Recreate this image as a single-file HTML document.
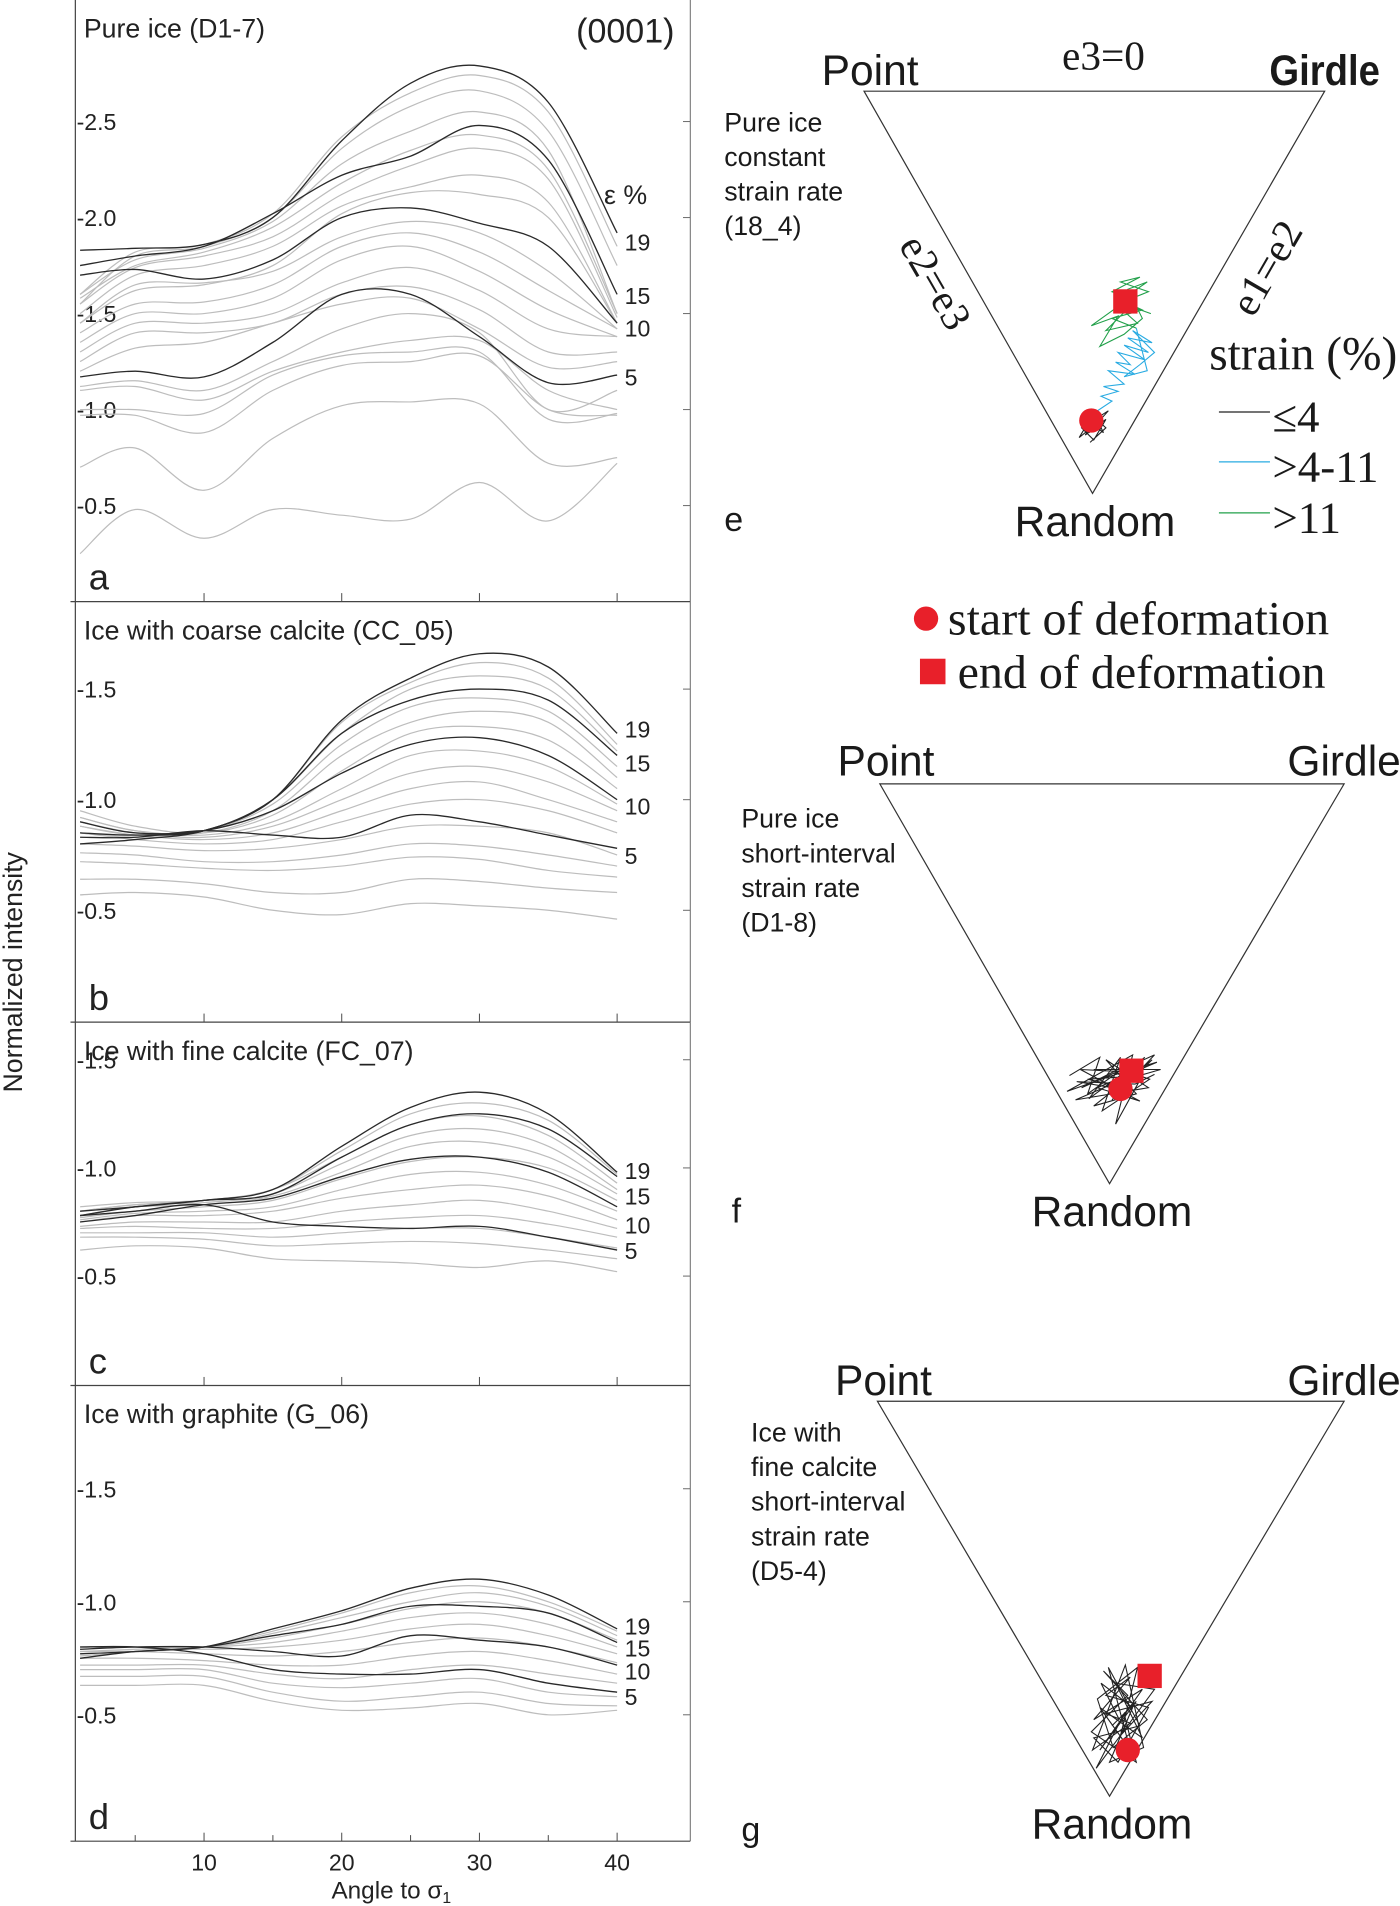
<!DOCTYPE html>
<html><head><meta charset="utf-8"><title>Ice fabric intensity and eigenvalue trajectories</title>
<style>
html,body{margin:0;padding:0;background:#fff;}
svg{display:block;}
.sans{font-family:"Liberation Sans",sans-serif;}
.serif{font-family:"Liberation Serif",serif;}
</style></head>
<body>
<svg id="fig" width="1400" height="1906" viewBox="0 0 1152 1568.3" xmlns="http://www.w3.org/2000/svg">
<g id="left"></g>
<g id="right"></g>
</svg>
<script>
// ---------- data: intensity curves ----------
const angles = [1,5,10,15,20,25,30,35,40];
const yTicks = [0.5,1.0,1.5,2.0,2.5];
const xTickLabels = [10,20,30,40];
const strainLabels = ['19','15','10','5'];

const aDark = [
 [1.83,1.84,1.86,2.0,2.4,2.7,2.79,2.6,1.92],
 [1.75,1.8,1.85,2.02,2.22,2.32,2.48,2.3,1.6],
 [1.7,1.73,1.68,1.78,2.0,2.05,1.97,1.85,1.45],
 [1.17,1.2,1.17,1.35,1.6,1.6,1.38,1.14,1.18]];
const aGray = [
 [1.6,1.82,1.86,2.02,2.42,2.65,2.74,2.55,1.85],
 [1.55,1.8,1.85,2.0,2.36,2.58,2.66,2.45,1.75],
 [1.6,1.78,1.84,1.98,2.28,2.45,2.55,2.35,1.5],
 [1.58,1.75,1.82,1.95,2.18,2.35,2.43,2.25,1.5],
 [1.55,1.74,1.8,1.9,2.12,2.27,2.36,2.2,1.48],
 [1.5,1.7,1.75,1.85,2.06,2.16,2.22,2.08,1.45],
 [1.45,1.62,1.65,1.75,2.02,2.13,2.12,2.0,1.45],
 [1.45,1.65,1.66,1.72,1.9,1.98,1.92,1.72,1.42],
 [1.4,1.55,1.56,1.65,1.85,1.92,1.82,1.62,1.42],
 [1.35,1.5,1.5,1.58,1.78,1.85,1.72,1.52,1.38],
 [1.3,1.45,1.45,1.5,1.66,1.74,1.62,1.42,1.38],
 [1.25,1.4,1.4,1.45,1.6,1.64,1.52,1.3,1.3],
 [1.2,1.32,1.35,1.45,1.55,1.58,1.42,1.22,1.25],
 [1.12,1.15,1.1,1.25,1.42,1.5,1.4,1.0,1.1],
 [1.1,1.12,1.05,1.2,1.3,1.36,1.36,1.1,1.0],
 [1.0,1.0,0.98,1.18,1.28,1.3,1.3,0.95,0.98],
 [0.97,0.97,0.88,1.1,1.23,1.25,1.28,1.0,0.97],
 [0.7,0.8,0.58,0.85,1.02,1.04,1.03,0.72,0.75],
 [0.25,0.48,0.33,0.48,0.45,0.43,0.62,0.42,0.72]];

const bDark = [
 [0.8,0.82,0.86,1.0,1.36,1.55,1.66,1.6,1.3],
 [0.85,0.84,0.86,1.0,1.3,1.45,1.5,1.45,1.2],
 [0.9,0.85,0.86,0.95,1.12,1.25,1.28,1.2,1.0],
 [0.83,0.83,0.86,0.84,0.83,0.93,0.9,0.84,0.78]];
const bGray = [
 [0.85,0.83,0.86,1.0,1.35,1.53,1.62,1.55,1.25],
 [0.88,0.84,0.86,1.0,1.3,1.5,1.56,1.5,1.22],
 [0.9,0.85,0.86,0.98,1.25,1.42,1.46,1.4,1.15],
 [0.92,0.86,0.85,0.95,1.2,1.35,1.4,1.35,1.1],
 [0.95,0.88,0.85,0.93,1.13,1.3,1.33,1.27,1.05],
 [0.92,0.86,0.84,0.9,1.05,1.2,1.22,1.15,0.98],
 [0.9,0.85,0.83,0.88,1.0,1.12,1.15,1.08,0.95],
 [0.88,0.84,0.82,0.85,0.95,1.05,1.08,1.0,0.9],
 [0.85,0.82,0.8,0.82,0.9,0.98,1.0,0.95,0.85],
 [0.8,0.79,0.77,0.78,0.82,0.88,0.88,0.85,0.75],
 [0.76,0.75,0.72,0.72,0.75,0.8,0.79,0.75,0.7],
 [0.72,0.71,0.69,0.68,0.7,0.74,0.73,0.68,0.65],
 [0.64,0.64,0.62,0.58,0.58,0.64,0.63,0.6,0.58],
 [0.57,0.58,0.56,0.5,0.48,0.53,0.52,0.5,0.46]];

const cDark = [
 [0.8,0.82,0.85,0.9,1.1,1.28,1.35,1.25,0.98],
 [0.78,0.82,0.85,0.88,1.05,1.2,1.25,1.18,0.96],
 [0.75,0.78,0.83,0.86,0.96,1.04,1.05,0.98,0.82],
 [0.78,0.8,0.83,0.75,0.73,0.72,0.73,0.68,0.62]];
const cGray = [
 [0.8,0.83,0.85,0.9,1.08,1.25,1.3,1.22,0.97],
 [0.82,0.84,0.85,0.9,1.05,1.2,1.24,1.15,0.93],
 [0.8,0.83,0.84,0.88,1.02,1.15,1.18,1.1,0.9],
 [0.78,0.82,0.83,0.87,0.98,1.1,1.12,1.05,0.88],
 [0.77,0.8,0.82,0.85,0.95,1.03,1.05,1.0,0.85],
 [0.76,0.79,0.8,0.82,0.9,0.97,0.98,0.92,0.8],
 [0.75,0.78,0.78,0.8,0.86,0.9,0.92,0.87,0.76],
 [0.73,0.75,0.75,0.75,0.8,0.83,0.85,0.8,0.72],
 [0.72,0.73,0.72,0.72,0.75,0.77,0.78,0.74,0.68],
 [0.7,0.7,0.7,0.68,0.7,0.72,0.72,0.68,0.63],
 [0.68,0.68,0.67,0.64,0.65,0.66,0.65,0.62,0.58],
 [0.62,0.64,0.63,0.58,0.57,0.56,0.54,0.57,0.52]];

const dDark = [
 [0.75,0.78,0.8,0.88,0.96,1.06,1.1,1.03,0.88],
 [0.77,0.78,0.8,0.85,0.9,0.98,0.98,0.95,0.82],
 [0.79,0.8,0.8,0.78,0.76,0.85,0.83,0.8,0.72],
 [0.8,0.8,0.77,0.7,0.68,0.68,0.7,0.64,0.6]];
const dGray = [
 [0.76,0.78,0.8,0.87,0.95,1.04,1.07,1.0,0.87],
 [0.78,0.79,0.8,0.86,0.93,1.0,1.04,0.98,0.85],
 [0.8,0.8,0.8,0.84,0.9,0.97,1.0,0.95,0.83],
 [0.8,0.8,0.8,0.82,0.87,0.93,0.95,0.9,0.8],
 [0.8,0.8,0.79,0.8,0.83,0.88,0.9,0.85,0.77],
 [0.78,0.78,0.77,0.76,0.78,0.82,0.84,0.8,0.73],
 [0.75,0.75,0.74,0.72,0.72,0.76,0.78,0.74,0.68],
 [0.72,0.72,0.72,0.68,0.66,0.7,0.72,0.68,0.64],
 [0.7,0.7,0.7,0.64,0.62,0.64,0.66,0.6,0.58],
 [0.67,0.67,0.67,0.6,0.56,0.58,0.6,0.55,0.54],
 [0.63,0.63,0.63,0.56,0.52,0.53,0.55,0.5,0.52]];

// ---------- data: ternary trajectories (display coords) ----------
const eBlack = [[898,350],[905,340],[893,358],[910,345],[900,362],[890,352],[912,338],[896,356],[906,350],[893,344],[908,356],[900,340],[888,360],[904,347],[895,338],[910,352],[897,364]];
const eBlue = [[900,340],[915,330],[906,326],[920,322],[908,318],[925,316],[912,305],[934,308],[918,298],[930,300],[920,290],[942,296],[925,284],[945,290],[928,278],[948,282],[932,272],[950,290],[938,300],[925,310],[944,305],[935,270]];
const eGreen = [[935,270],[915,262],[940,255],[925,248],[945,240],[922,232],[938,228],[915,240],[930,245],[898,268],[920,260],[905,285],[925,275],[940,262],[928,238],[944,232],[918,250],[936,266],[910,272],[930,252],[947,258]];
const fTrail = [[880,885],[905,870],[895,900],[930,875],[890,895],[950,868],[915,905],[940,880],[900,880],[955,880],[920,890],[885,905],[945,895],[910,872],[935,900],[900,910],[948,872],[925,895],[895,888],[940,885],[918,925],[932,868],[878,898],[912,886],[952,874],[903,895],[938,906],[889,880],[928,882],[946,888],[907,914],[922,870],[896,904],[942,870],[915,895],[886,890],[934,892],[950,884]];
const gTrail = [[915,1420],[935,1400],[905,1440],[940,1390],[900,1415],[930,1380],[910,1395],[945,1405],[920,1450],[900,1430],[938,1420],[912,1372],[930,1440],[905,1405],[940,1430],[918,1385],[950,1390],[902,1455],[925,1410],[935,1450],[898,1425],[928,1395],[908,1375],[944,1415],[916,1438],[903,1398],[936,1372],[922,1428],[948,1400],[910,1410],[930,1418],[899,1440],[926,1370],[941,1438],[913,1450],[932,1405],[906,1385],[921,1415]];

// ---------- helpers ----------
const NS = 'http://www.w3.org/2000/svg';
function mk(tag, attrs, parent, text){
  const el = document.createElementNS(NS, tag);
  for (const k in attrs) el.setAttribute(k, attrs[k]);
  if (text !== undefined) el.textContent = text;
  parent.appendChild(el);
  return el;
}
function smoothPath(pts){
  let d = 'M'+pts[0][0].toFixed(1)+','+pts[0][1].toFixed(1);
  for (let i=0;i<pts.length-1;i++){
    const p0=pts[Math.max(i-1,0)],p1=pts[i],p2=pts[i+1],p3=pts[Math.min(i+2,pts.length-1)];
    const c1=[p1[0]+(p2[0]-p0[0])/6,p1[1]+(p2[1]-p0[1])/6];
    const c2=[p2[0]-(p3[0]-p1[0])/6,p2[1]-(p3[1]-p1[1])/6];
    d+=' C'+c1[0].toFixed(1)+','+c1[1].toFixed(1)+' '+c2[0].toFixed(1)+','+c2[1].toFixed(1)+' '+p2[0].toFixed(1)+','+p2[1].toFixed(1);
  }
  return d;
}
const AX_L = 62, AX_R = 568;
function xScale(a){ return 54.6 + a*11.33; }

const left = document.getElementById('left');
const right = document.getElementById('right');

const panels = [
 {key:'a', top:0, bot:495, py1:337, py05:416, ticks:[0.5,1.0,1.5,2.0,2.5], title:'Pure ice (D1-7)', dark:aDark, gray:aGray, labY:[199,243,270,310]},
 {key:'b', top:495, bot:841, py1:658, py05:749, ticks:[0.5,1.0,1.5], title:'Ice with coarse calcite (CC_05)', dark:bDark, gray:bGray, labY:[600,628,663,704]},
 {key:'c', top:841, bot:1140, py1:961, py05:1050, ticks:[0.5,1.0,1.5], title:'Ice with fine calcite (FC_07)', dark:cDark, gray:cGray, labY:[963,984,1008,1029]},
 {key:'d', top:1140, bot:1515, py1:1318, py05:1411, ticks:[0.5,1.0,1.5], title:'Ice with graphite (G_06)', dark:dDark, gray:dGray, labY:[1338,1356,1375,1396]}
];

panels.forEach(p=>{
  const g = mk('g',{},left);
  
  
  const ys = v => p.py1 + (1.0 - v)*(p.py05 - p.py1)/0.5;
  const axl = mk('line',{x1:AX_L,y1:p.top,x2:AX_L,y2:p.bot,stroke:'#444','stroke-width':1},g);
  
  
  const axr = mk('line',{x1:AX_R,y1:p.top,x2:AX_R,y2:p.bot,stroke:'#666','stroke-width':0.8},g);
  
  
  const axb = mk('line',{x1:58,y1:p.bot,x2:AX_R,y2:p.bot,stroke:'#444','stroke-width':1},g);
  
  
  xTickLabels.forEach(t=>{
    const tk = mk('line',{x1:xScale(t),y1:p.bot,x2:xScale(t),y2:p.bot-7,stroke:'#444','stroke-width':0.8},g);
    
    
  });
  p.ticks.forEach(t=>{
    const y = ys(t);
    const lb = mk('text',{x:AX_L+1,y:y+7,'font-size':19,fill:'#222',class:'sans'},g,'-'+t.toFixed(1));
    
    
    const rt = mk('line',{x1:AX_R,y1:y,x2:AX_R-6,y2:y,stroke:'#666','stroke-width':0.8},g);
    
    
  });
  p.gray.forEach((c,i)=>{
    const path = mk('path',{d:smoothPath(c.map((v,j)=>[xScale(angles[j]),ys(v)])),fill:'none',stroke:'#bdbdbd','stroke-width':1},g);
    
    
  });
  p.dark.forEach((c,i)=>{
    const path = mk('path',{d:smoothPath(c.map((v,j)=>[xScale(angles[j]),ys(v)])),fill:'none',stroke:'#2a2a2a','stroke-width':1.1},g);
    
    
  });
  const tt = mk('text',{x:69,y:p.top+31,'font-size':22,fill:'#222',class:'sans'},g,p.title);
  
  
  const pl = mk('text',{x:73,y:p.bot-10,'font-size':30,fill:'#222',class:'sans'},g,p.key);
  
  
  strainLabels.forEach((s,i)=>{
    const sl = mk('text',{x:514,y:p.labY[i]+7,'font-size':19,fill:'#222',class:'sans'},g,s);
    
    
  });
});
let t;
t = mk('text',{x:555,y:35,'font-size':28,fill:'#222','text-anchor':'end',class:'sans'},left,'(0001)');


t = mk('text',{x:497,y:168,'font-size':22,fill:'#222',class:'sans'},left,'ε %');


[5,15,25,35].forEach(m=>{
  const tk = mk('line',{x1:xScale(m),y1:1515,x2:xScale(m),y2:1510,stroke:'#444','stroke-width':0.8},left);
  
  
});
xTickLabels.forEach(v=>{
  const l = mk('text',{x:xScale(v),y:1539,'font-size':19,fill:'#222','text-anchor':'middle',class:'sans'},left,String(v));
  
  
});
t = mk('text',{x:322,y:1562,'font-size':20,fill:'#222','text-anchor':'middle',class:'sans'},left,'');
t.innerHTML = 'Angle to σ<tspan font-size="13" dy="4">1</tspan>';


t = mk('text',{x:0,y:0,'font-size':22,fill:'#222','text-anchor':'middle',class:'sans',transform:'translate(18,800) rotate(-90)'},left,'Normalized intensity');



// ---------- ternary panels ----------
const tern = [
 {key:'e', P:[711,75], G:[1090,75], R:[899,406], lines:['Pure ice','constant','strain rate','(18_4)'], lx:596, ly:108, letterY:437, pY:70, start:[898,346], end:[926,248]},
 {key:'f', P:[724,645], G:[1106,645], R:[913,974], lines:['Pure ice','short-interval','strain rate','(D1-8)'], lx:610, ly:681, letterY:1006, pY:638, start:[922,896], end:[931,881]},
 {key:'g', P:[722,1153], G:[1106,1153], R:[913,1478], lines:['Ice with','fine calcite','short-interval','strain rate','(D5-4)'], lx:618, ly:1186, letterY:1515, pY:1148, start:[928,1440], end:[946,1379]}
];
tern.forEach(T=>{
  const g = mk('g',{},right);
  
  
  const tri = mk('polygon',{points:[T.P,T.G,T.R].map(p=>p.join(',')).join(' '),fill:'none',stroke:'#333','stroke-width':1},g);
  
  
  let x = mk('text',{x:T.P[0]+5,y:T.pY,'font-size':35,fill:'#1a1a1a','text-anchor':'middle',class:'sans'},g,'Point');
  
  
  x = mk('text',{x:T.G[0],y:T.pY,'font-size':35,fill:'#1a1a1a','text-anchor':'middle',class:'sans','font-weight':T.key==='e'?'bold':'normal',transform:T.key==='e'?'translate(1090,0) scale(0.9,1) translate(-1090,0)':''},g,'Girdle');
  
  
  x = mk('text',{x:T.R[0]+2,y:T.R[1]+35,'font-size':35,fill:'#1a1a1a','text-anchor':'middle',class:'sans'},g,'Random');
  
  
  T.lines.forEach((ln,i)=>{
    const l = mk('text',{x:T.lx,y:T.ly+i*28.5,'font-size':22,fill:'#1a1a1a',class:'sans'},g,ln);
    
    
  });
  x = mk('text',{x:T.lx-(T.key==='e'?0:8),y:T.letterY,'font-size':28,fill:'#1a1a1a',class:'sans'},g,T.key);
  
  
  T.g = g;
});
function trail(pts, color, parent, name){
  const pl = mk('polyline',{points:pts.map(p=>p.join(',')).join(' '),fill:'none',stroke:color,'stroke-width':0.9},parent);
  
  
}
trail(eBlack,'#222',tern[0].g,'trajectory-e-low-strain');
trail(eBlue,'#29abe2',tern[0].g,'trajectory-e-mid-strain');
trail(eGreen,'#22a04a',tern[0].g,'trajectory-e-high-strain');
trail(fTrail,'#222',tern[1].g,'trajectory-f');
trail(gTrail,'#222',tern[2].g,'trajectory-g');
tern.forEach(T=>{
  const c = mk('circle',{cx:T.start[0],cy:T.start[1],r:10,fill:'#e8202a'},T.g);
  
  
  const s = mk('rect',{x:T.end[0]-10,y:T.end[1]-10,width:20,height:20,fill:'#e8202a'},T.g);
  
  
});
t = mk('text',{x:908,y:57,'font-size':34,fill:'#1a1a1a','text-anchor':'middle',class:'serif'},right,'e3=0');


t = mk('text',{x:0,y:0,'font-size':34,fill:'#1a1a1a','text-anchor':'middle',class:'serif',transform:'translate(760,238) rotate(60)'},right,'e2=e3');


t = mk('text',{x:0,y:0,'font-size':34,fill:'#1a1a1a','text-anchor':'middle',class:'serif',transform:'translate(1052,226) rotate(-60)'},right,'e1=e2');


t = mk('text',{x:995,y:304,'font-size':39,fill:'#1a1a1a',class:'serif'},right,'strain (%)');


const legItems = [['≤4','#222',344],['>4-11','#29abe2',385],['>11','#22a04a',427]];
legItems.forEach((it,i)=>{
  const ln = mk('line',{x1:1003,y1:it[2]-5,x2:1045,y2:it[2]-5,stroke:it[1],'stroke-width':1},right);
  
  
  const tx = mk('text',{x:1047,y:it[2]+11,'font-size':37,fill:'#1a1a1a',class:'serif'},right,it[0]);
  
  
});
t = mk('circle',{cx:762,cy:509,r:10,fill:'#e8202a'},right);


t = mk('text',{x:780,y:522,'font-size':39.5,fill:'#1a1a1a',class:'serif'},right,'start of deformation');


t = mk('rect',{x:757,y:542,width:21,height:21,fill:'#e8202a'},right);


t = mk('text',{x:788,y:566,'font-size':39.5,fill:'#1a1a1a',class:'serif'},right,'end of deformation');


</script>
</body></html>
